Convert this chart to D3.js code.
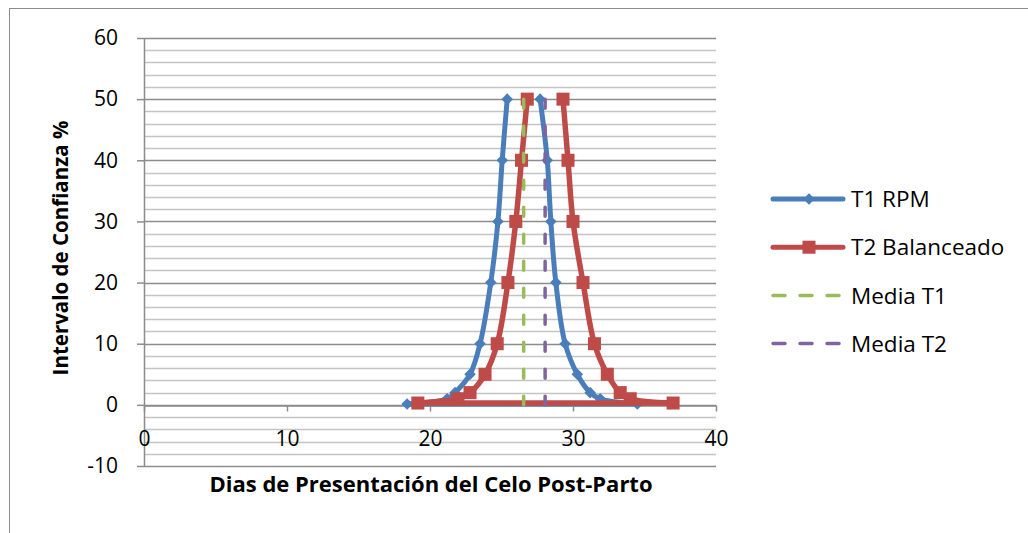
<!DOCTYPE html>
<html>
<head>
<meta charset="utf-8">
<script src="https://cdn.jsdelivr.net/npm/d3@7"></script>
<style>
  body { margin: 0; background: #fff; }
  svg text { font-family: "Open Sans", "Liberation Sans", Arial, sans-serif; fill: #000; }
</style>
</head>
<body>
<svg id="chart" width="1028" height="533"></svg>
<script>
// values (x = dias, y = intervalo %)
// each series: lower bounds from 50 down to 0, then upper bounds from 0 up to 50
var t1X = [25.4, 25.05, 24.75, 24.25, 23.5, 22.8, 21.75, 21.2, 18.4, 34.5, 31.9, 31.2, 30.3, 29.45, 28.8, 28.45, 28.2, 27.7];
var t1Y = [50, 40, 30, 20, 10, 5, 2, 1, 0.15, 0.15, 1, 2, 5, 10, 20, 30, 40, 50];
var t2X = [26.8, 26.4, 26.0, 25.45, 24.7, 23.85, 22.8, 21.95, 19.15, 37.0, 34.0, 33.3, 32.4, 31.5, 30.7, 30.0, 29.65, 29.3];
var t2Y = [50, 40, 30, 20, 10, 5, 2, 1, 0.3, 0.3, 1, 2, 5, 10, 20, 30, 40, 50];
var mediaT1 = 26.55;
var mediaT2 = 28.05;
var mediaRange = [50, 0];

var xTicks = [0, 10, 20, 30, 40];
var yTicks = [-10, 0, 10, 20, 30, 40, 50, 60];
var yMinor = d3.range(-10, 61, 2);

var seriesNames = ["T1 RPM", "T2 Balanceado", "Media T1", "Media T2"];
var colors = ["#4a7ebb", "#be4b48", "#9bbb59", "#8064a2"];

var svg = d3.select("#chart");

// outer chart frame (right/bottom edges fall outside the picture)
svg.append("rect")
    .attr("x", 9.5).attr("y", 8.5)
    .attr("width", 1040).attr("height", 540)
    .attr("fill", "none").attr("stroke", "#8c8c8c").attr("stroke-width", 1);

var x = d3.scaleLinear().domain([0, 40]).range([144, 716]);
var y = d3.scaleLinear().domain([-10, 60]).range([466, 38]);

// gridlines
var grid = svg.append("g");
grid.selectAll(".minor")
    .data(yMinor.filter(function (v) { return v % 10 != 0; }))
    .enter().append("line")
    .attr("class", "minor")
    .attr("x1", x(0)).attr("x2", x(40))
    .attr("y1", function (d) { return Math.round(y(d)) + 0.5; })
    .attr("y2", function (d) { return Math.round(y(d)) + 0.5; })
    .attr("stroke", "#c4c4c4").attr("stroke-width", 1.5);
grid.selectAll(".major")
    .data(yTicks)
    .enter().append("line")
    .attr("class", "major")
    .attr("x1", x(0)).attr("x2", x(40))
    .attr("y1", function (d) { return Math.round(y(d)) + 0.5; })
    .attr("y2", function (d) { return Math.round(y(d)) + 0.5; })
    .attr("stroke", "#8c8c8c").attr("stroke-width", 1.5);

// axes
var fmt = function (d) { return String(d); };
var yAxis = svg.append("g")
    .attr("transform", "translate(" + x(0) + ",0)")
    .call(d3.axisLeft(y).tickValues(yTicks).tickFormat(fmt).tickSize(7).tickSizeOuter(0).tickPadding(19));
var xAxis = svg.append("g")
    .attr("transform", "translate(0," + (Math.round(y(0)) + 0.5) + ")")
    .call(d3.axisBottom(x).tickValues(xTicks).tickFormat(fmt).tickSize(6).tickSizeOuter(0).tickPadding(20));

[yAxis, xAxis].forEach(function (a) {
    a.selectAll("path, line").attr("stroke", "#8c8c8c").attr("stroke-width", 1.5);
    a.selectAll("text").style("font-size", "21px").attr("fill", "#000");
});

// axis titles
svg.append("text")
    .attr("x", 431).attr("y", 492)
    .attr("text-anchor", "middle")
    .style("font-size", "22px").style("font-weight", "bold")
    .text("Dias de Presentación del Celo Post-Parto");
svg.append("text")
    .attr("transform", "translate(68,248) rotate(-90)")
    .attr("text-anchor", "middle")
    .style("font-size", "20.5px").style("font-weight", "bold")
    .text("Intervalo de Confianza %");

// series: smoothed branches, straight segment across the bottom
var smooth = d3.line()
    .x(function (d) { return x(d[0]); })
    .y(function (d) { return y(d[1]); })
    .curve(d3.curveCatmullRom.alpha(0.5));
var straight = d3.line()
    .x(function (d) { return x(d[0]); })
    .y(function (d) { return y(d[1]); });

var diamond = d3.symbol().type(d3.symbolDiamond2);
var square = d3.symbol().type(d3.symbolSquare);

function drawSeries(xs, ys, color, width, symbol, cls) {
    var pts = d3.zip(xs, ys);
    var half = pts.length / 2;
    var g = svg.append("g").attr("class", cls);
    [pts.slice(0, half), pts.slice(half - 1, half + 1), pts.slice(half)].forEach(function (part, i) {
        g.append("path").datum(part)
            .attr("d", i == 1 ? straight : smooth)
            .attr("fill", "none")
            .attr("stroke", color).attr("stroke-width", width)
            .attr("stroke-linejoin", "round").attr("stroke-linecap", "round");
    });
    g.selectAll(".mk").data(pts).enter().append("path")
        .attr("class", "mk")
        .attr("transform", function (d) { return "translate(" + x(d[0]) + "," + y(d[1]) + ")"; })
        .attr("d", symbol)
        .attr("fill", color);
}

drawSeries(t1X, t1Y, colors[0], 5, diamond.size(85), "t1");
drawSeries(t2X, t2Y, colors[1], 5.5, square.size(170), "t2");

// mean lines, drawn over the curves
var means = [mediaT1, mediaT2];
svg.selectAll(".media")
    .data(means)
    .enter().append("line")
    .attr("class", "media")
    .attr("x1", function (d) { return x(d); }).attr("x2", function (d) { return x(d); })
    .attr("y1", y(mediaRange[0])).attr("y2", y(mediaRange[1]))
    .attr("stroke", function (d, i) { return colors[i + 2]; })
    .attr("stroke-width", 3.5)
    .attr("stroke-linecap", "round")
    .attr("stroke-dasharray", "9,18");

// legend
var legend = svg.append("g").attr("transform", "translate(773,199)");
var item = legend.selectAll(".item")
    .data(seriesNames)
    .enter().append("g")
    .attr("class", "item")
    .attr("transform", function (d, i) { return "translate(0," + (i * 48.2) + ")"; });

item.append("line")
    .attr("x1", 0).attr("x2", 70).attr("y1", 0).attr("y2", 0)
    .attr("stroke", function (d, i) { return colors[i]; })
    .attr("stroke-width", function (d, i) { return i < 2 ? 5 : 3.5; })
    .attr("stroke-linecap", "round")
    .attr("stroke-dasharray", function (d, i) { return i < 2 ? null : "12,15"; });

item.filter(function (d, i) { return i == 0; }).append("path")
    .attr("transform", "translate(36,0)")
    .attr("d", diamond.size(85)).attr("fill", colors[0]);
item.filter(function (d, i) { return i == 1; }).append("path")
    .attr("transform", "translate(36,0)")
    .attr("d", square.size(170)).attr("fill", colors[1]);

item.append("text")
    .attr("x", 78).attr("y", 0).attr("dy", "0.36em")
    .style("font-size", "22.5px")
    .text(function (d) { return d; });
</script>
</body>
</html>
